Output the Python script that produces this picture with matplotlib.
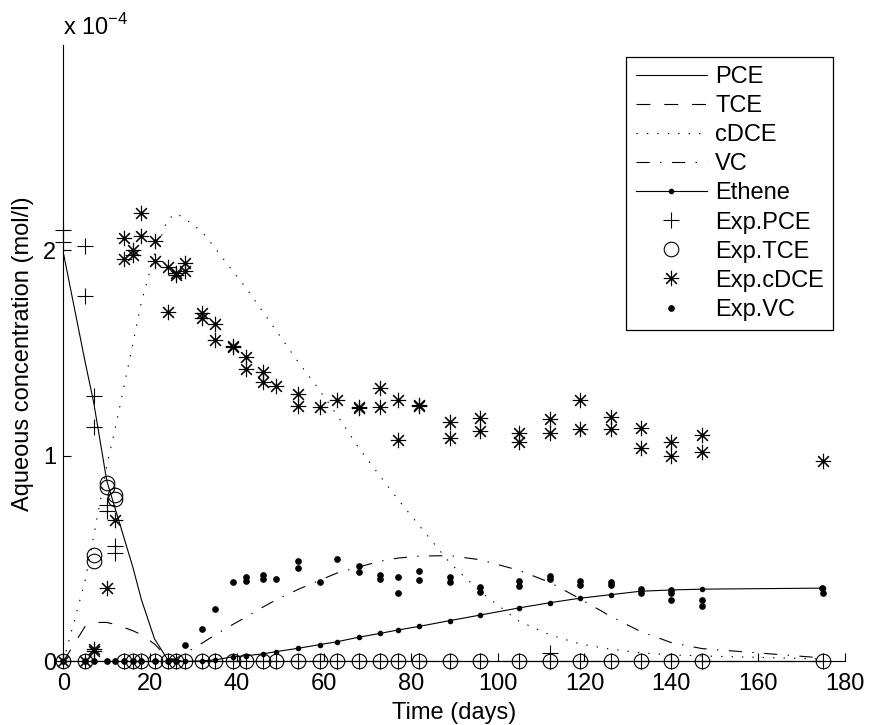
import numpy as np
import matplotlib
matplotlib.use("Agg")
import matplotlib.pyplot as plt

plt.rcParams["font.family"] = ["Liberation Sans", "DejaVu Sans"]
plt.rcParams["mathtext.fontset"] = "custom"
plt.rcParams["mathtext.rm"] = "Liberation Sans"
plt.rcParams["lines.scale_dashes"] = False

# concentrations in units of 1e-4 mol/l
# --- model output (evaluated at sampling times) ---
t_model = [0, 5, 7, 10, 12, 14, 16, 18, 21, 24, 26, 28, 32, 35, 39, 42, 46, 49,
           54, 59, 63, 68, 73, 77, 82, 89, 96, 105, 112, 119, 126, 133, 140, 147, 175]
pce_model = [1.99, 1.46, 1.26, 0.88, 0.74, 0.60, 0.46, 0.30, 0.11, 0.01, 0, 0, 0, 0, 0, 0, 0, 0,
             0, 0, 0, 0, 0, 0, 0, 0, 0, 0, 0, 0, 0, 0, 0, 0, 0]
tce_model = [0, 0.17, 0.19, 0.19, 0.18, 0.165, 0.15, 0.13, 0.085, 0.02, 0.005, 0, 0, 0, 0, 0, 0, 0,
             0, 0, 0, 0, 0, 0, 0, 0, 0, 0, 0, 0, 0, 0, 0, 0, 0]
cdce_model = [0, 0.39, 0.61, 0.95, 1.14, 1.34, 1.546, 1.75, 1.98, 2.15, 2.18, 2.155, 2.09, 2.01,
              1.90, 1.82, 1.70, 1.61, 1.46, 1.32, 1.20, 1.04, 0.90, 0.79, 0.66, 0.48, 0.34,
              0.195, 0.13, 0.085, 0.06, 0.042, 0.032, 0.027, 0.012]
vc_model = [0, 0, 0, 0, 0, 0, 0, 0, 0, 0.005, 0.015, 0.04, 0.09, 0.13, 0.18, 0.215, 0.265, 0.30,
            0.35, 0.395, 0.43, 0.46, 0.488, 0.503, 0.513, 0.515, 0.495, 0.443, 0.385, 0.305,
            0.22, 0.145, 0.092, 0.063, 0.017]
eth_model = [0, 0, 0, 0, 0, 0, 0, 0, 0, 0, 0, 0, 0.003, 0.008, 0.023, 0.028, 0.037, 0.048,
             0.064, 0.082, 0.096, 0.118, 0.137, 0.153, 0.171, 0.199, 0.226, 0.261, 0.286,
             0.308, 0.325, 0.342, 0.348, 0.352, 0.357]

# --- experimental data (replicates listed separately) ---
late_t = [14, 16, 18, 21, 24, 26, 28, 32, 35, 39, 42, 46, 49, 54, 59, 63, 68, 73, 77, 82,
          89, 96, 105, 112, 119, 126, 133, 140, 147, 175]

exp_pce_t = [0, 0, 5, 5, 7, 7, 10, 10, 12, 12, 112] + late_t
exp_pce = [2.10, 2.04, 2.02, 1.78, 1.29, 1.14, 0.76, 0.73, 0.56, 0.53, 0.04] + [0] * len(late_t)

exp_tce_t = [0, 5, 7, 7, 10, 10, 12, 12] + late_t
exp_tce = [0, 0, 0.52, 0.49, 0.87, 0.85, 0.81, 0.79] + [0] * len(late_t)

exp_cdce_t = [0, 5, 7, 7, 10, 12, 14, 14, 16, 16, 18, 18, 21, 21, 24, 24, 26, 26, 28, 28,
              32, 32, 35, 35, 39, 39, 42, 42, 46, 46, 49, 54, 54, 59, 63, 68, 68, 73, 73,
              77, 77, 82, 82, 89, 89, 96, 96, 105, 105, 112, 112, 119, 119, 126, 126,
              133, 133, 140, 140, 147, 147, 175]
exp_cdce = [0, 0, 0.06, 0.05, 0.36, 0.69, 2.06, 1.96, 2.00, 1.98, 2.18, 2.07, 2.045, 1.95,
            1.92, 1.70, 1.89, 1.88, 1.94, 1.90, 1.696, 1.67, 1.64, 1.566, 1.533, 1.53,
            1.48, 1.425, 1.41, 1.36, 1.34, 1.30, 1.245, 1.24, 1.27, 1.24, 1.235, 1.33, 1.24,
            1.27, 1.08, 1.25, 1.245, 1.163, 1.087, 1.185, 1.12, 1.114, 1.068, 1.18, 1.114,
            1.27, 1.13, 1.19, 1.13, 1.136, 1.04, 1.068, 1.0, 1.10, 1.017, 0.975]

exp_vc_t = [0, 5, 7, 10, 12, 14, 16, 18, 21, 24, 26, 28, 32, 35, 39, 42, 42, 46, 46, 49,
            54, 54, 59, 63, 68, 68, 73, 73, 77, 77, 82, 82, 89, 89, 96, 96, 105, 105,
            112, 112, 119, 119, 126, 126, 133, 133, 140, 140, 140, 147, 147, 174.6, 175]
exp_vc = [0, 0, 0, 0, 0, 0, 0, 0, 0, 0, 0, 0.08, 0.157, 0.254, 0.386, 0.413, 0.394, 0.421,
          0.40, 0.403, 0.491, 0.454, 0.386, 0.498, 0.465, 0.437, 0.42, 0.403, 0.413, 0.332,
          0.442, 0.397, 0.41, 0.387, 0.364, 0.338, 0.392, 0.368, 0.416, 0.40, 0.392, 0.373,
          0.389, 0.373, 0.352, 0.335, 0.348, 0.332, 0.30, 0.30, 0.27, 0.357, 0.335]

x_ticks = [0, 20, 40, 60, 80, 100, 120, 140, 160, 180]
y_ticks = [0, 1, 2]

FS = 17
asterisk = (8, 2, 0)

fig = plt.figure(figsize=(8.72, 7.25), dpi=100)
ax = fig.add_axes([0.0726, 0.0876, 0.8965, 0.8504])

lw = 0.8
ax.plot(t_model, pce_model, "-", color="k", lw=lw, label="PCE", clip_on=False)
ax.plot(t_model, tce_model, color="k", lw=lw, dashes=(10, 10), label="TCE", clip_on=False)
ax.plot(t_model, cdce_model, color="k", lw=lw, dashes=(1, 6.5), label="cDCE", clip_on=False)
ax.plot(t_model, vc_model, color="k", lw=lw, dashes=(9.5, 7.5, 1, 7.5), label="VC",
        clip_on=False)
ax.plot(t_model, eth_model, "-", color="k", lw=lw, marker="o", ms=3, label="Ethene",
        clip_on=False)
ax.plot(exp_pce_t, exp_pce, "+", color="k", ms=11, mew=0.8, label="Exp.PCE", clip_on=False)
ax.plot(exp_tce_t, exp_tce, "o", mfc="none", mec="k", ms=10.5, mew=0.8, label="Exp.TCE",
        clip_on=False)
ax.plot(exp_cdce_t, exp_cdce, ls="none", marker=asterisk, color="k", ms=11, mew=0.8,
        label="Exp.cDCE", clip_on=False)
ax.plot(exp_vc_t, exp_vc, "o", color="k", ms=3.8, label="Exp.VC", clip_on=False)

ax.set_xlim(0, 180)
ax.set_ylim(0, 3.0)
ax.set_xticks(x_ticks)
ax.set_yticks(y_ticks)
ax.tick_params(direction="in", length=6, width=0.8, labelsize=FS)
ax.tick_params(axis="x", pad=8)
ax.tick_params(axis="y", pad=5)
for side in ["top", "right"]:
    ax.spines[side].set_visible(False)
for side in ["left", "bottom"]:
    ax.spines[side].set_linewidth(0.8)

ax.set_xlabel("Time (days)", fontsize=FS, labelpad=5)
ax.set_ylabel("Aqueous concentration (mol/l)", fontsize=FS, labelpad=7)
ax.text(0, 1.008, r"x 10$^{-4}$", transform=ax.transAxes, ha="left", va="bottom",
        fontsize=FS)

leg = ax.legend(loc="upper right", bbox_to_anchor=(0.985, 0.981), borderaxespad=0,
                fontsize=FS, handlelength=3.0, handletextpad=0.35, labelspacing=0.3,
                borderpad=0.4, fancybox=False, edgecolor="k", framealpha=1)
leg.get_frame().set_linewidth(0.9)

fig.savefig("out.png", dpi=100)
